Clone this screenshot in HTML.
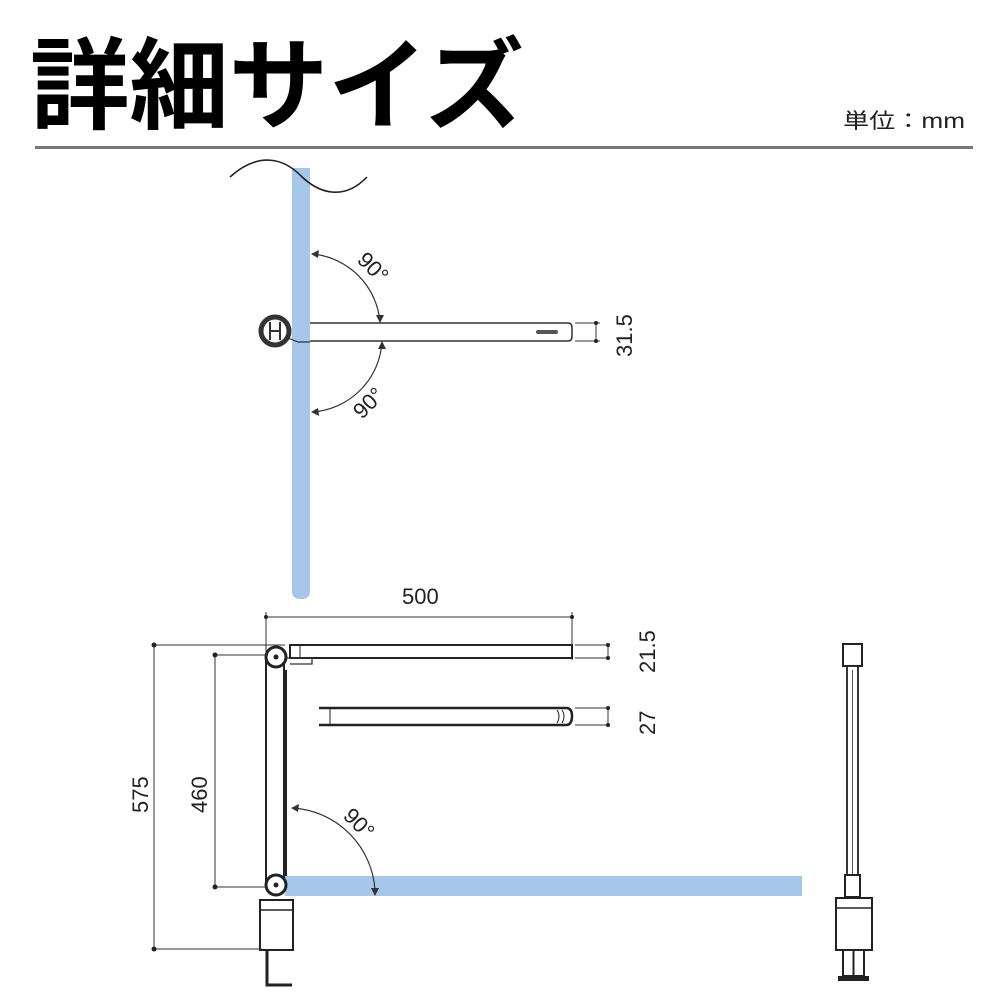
<!DOCTYPE html>
<html><head><meta charset="utf-8"><style>
html,body{margin:0;padding:0;background:#fff;}
svg{display:block;}
text{font-family:"Liberation Sans","Noto Sans CJK JP",sans-serif;}
</style></head><body>
<svg width="1000" height="1000" viewBox="0 0 1000 1000" xmlns="http://www.w3.org/2000/svg">
<text x="30" y="121" font-size="100" font-weight="700" style="font-family:'Noto Sans CJK JP',sans-serif" textLength="494" lengthAdjust="spacingAndGlyphs">詳細サイズ</text>
<text x="843" y="128" font-size="21" fill="#222" textLength="122" lengthAdjust="spacingAndGlyphs" style="font-family:'Liberation Sans','Noto Sans CJK JP',sans-serif">単位：mm</text>
<rect x="35" y="146" width="938" height="3" fill="#777"/>

<!-- top view -->
<rect x="292" y="168" width="18" height="425" fill="#a7c7ea"/>
<rect x="292" y="585" width="18" height="14" rx="7" fill="#a7c7ea"/>
<path d="M230 177 C260 150 285 160 300 175 C320 195 345 200 367 177" fill="none" stroke="#222" stroke-width="1.6"/>
<path d="M310 323 H568 Q572 323 572 328 V336 Q572 341 568 341 H310" fill="#fff" stroke="#333" stroke-width="1.5"/>
<rect x="536" y="330" width="22" height="4" rx="2" fill="#555"/>
<circle cx="275" cy="331" r="14" fill="#fff" stroke="#333" stroke-width="5"/>
<path d="M270 322 V340 M280 322 V340 M270 331 H280" fill="none" stroke="#333" stroke-width="2"/>
<path d="M288 338 L298 342 H310" fill="none" stroke="#333" stroke-width="1.2"/>
<path d="M313 254 A75 75 0 0 1 380 322" fill="none" stroke="#333" stroke-width="1.2"/>
<path d="M313 412 A75 75 0 0 0 382 342" fill="none" stroke="#333" stroke-width="1.2"/>
<path d="M311 254 l8 -4 l-1 8 z M380 323 l-4 -8 l8 0 z M382 341 l-4 8 l8 0 z M311 412 l8 4 l-1 -8 z" fill="#333"/>
<text x="0" y="0" font-size="22" fill="#222" transform="translate(356,261) rotate(45)">90°</text>
<text x="0" y="0" font-size="22" fill="#222" transform="translate(362,420) rotate(-45)">90°</text>
<line x1="575" y1="323" x2="600" y2="323" stroke="#333"/>
<line x1="575" y1="341" x2="600" y2="341" stroke="#333"/>
<line x1="596" y1="323" x2="596" y2="341" stroke="#333"/>
<circle cx="596" cy="323" r="2" fill="#222"/><circle cx="596" cy="341" r="2" fill="#222"/>
<text font-size="22" fill="#222" transform="translate(632,357) rotate(-90)">31.5</text>

<!-- side view -->
<line x1="266" y1="617" x2="572" y2="617" stroke="#333"/>
<line x1="266" y1="612" x2="266" y2="660" stroke="#333"/>
<line x1="572" y1="612" x2="572" y2="660" stroke="#333"/>
<circle cx="266" cy="617" r="2" fill="#222"/><circle cx="572" cy="617" r="2" fill="#222"/>
<text x="402" y="604" font-size="22" fill="#222">500</text>
<rect x="290" y="645" width="282" height="13" fill="#fff" stroke="#222" stroke-width="2"/>
<line x1="300" y1="645" x2="300" y2="658" stroke="#222"/>
<path d="M285 658 H312 V664 H290" fill="none" stroke="#333" stroke-width="1.3"/>
<rect x="266" y="660" width="18" height="222" fill="#fff" stroke="#222" stroke-width="2"/>
<line x1="286" y1="670" x2="286" y2="880" stroke="#222" stroke-width="2"/>
<circle cx="276" cy="657" r="10" fill="#fff" stroke="#222" stroke-width="3"/>
<circle cx="276" cy="657" r="2.5" fill="#222"/>
<rect x="285" y="876" width="517" height="20" fill="#a7c7ea"/>
<circle cx="276" cy="885" r="10" fill="#fff" stroke="#222" stroke-width="3"/>
<circle cx="276" cy="885" r="2.5" fill="#222"/>
<rect x="260" y="900" width="33" height="50" fill="#fff" stroke="#222" stroke-width="2"/>
<line x1="260" y1="910" x2="293" y2="910" stroke="#222" stroke-width="1.5"/>
<path d="M267 950 V985 H292" fill="none" stroke="#222" stroke-width="3"/>
<line x1="154" y1="645" x2="154" y2="949" stroke="#333"/>
<line x1="154" y1="645" x2="285" y2="645" stroke="#333"/>
<line x1="154" y1="949" x2="262" y2="949" stroke="#333"/>
<circle cx="154" cy="645" r="2.5" fill="#222"/><circle cx="154" cy="949" r="2.5" fill="#222"/>
<text font-size="22" fill="#222" transform="translate(148,813) rotate(-90)">575</text>
<line x1="215" y1="655" x2="215" y2="887" stroke="#333"/>
<line x1="215" y1="655" x2="268" y2="655" stroke="#333"/>
<line x1="215" y1="887" x2="268" y2="887" stroke="#333"/>
<circle cx="215" cy="655" r="2.5" fill="#222"/><circle cx="215" cy="887" r="2.5" fill="#222"/>
<text font-size="22" fill="#222" transform="translate(207,813) rotate(-90)">460</text>
<line x1="575" y1="645" x2="610" y2="645" stroke="#333"/>
<line x1="575" y1="658" x2="610" y2="658" stroke="#333"/>
<line x1="608" y1="645" x2="608" y2="658" stroke="#333"/>
<circle cx="608" cy="645" r="2" fill="#222"/><circle cx="608" cy="658" r="2" fill="#222"/>
<text font-size="22" fill="#222" transform="translate(655,673) rotate(-90)">21.5</text>
<path d="M319 708 H566 Q572 708 572 716 Q572 725 566 725 H319" fill="#fff" stroke="#222" stroke-width="2.5"/>
<line x1="330" y1="708" x2="330" y2="725" stroke="#222"/>
<path d="M557 710 q4 6 0 13 M562 710 q4 6 0 13" fill="none" stroke="#222"/>
<line x1="575" y1="708" x2="610" y2="708" stroke="#333"/>
<line x1="575" y1="725" x2="610" y2="725" stroke="#333"/>
<line x1="608" y1="708" x2="608" y2="725" stroke="#333"/>
<circle cx="608" cy="708" r="2" fill="#222"/><circle cx="608" cy="725" r="2" fill="#222"/>
<text font-size="22" fill="#222" transform="translate(655,735) rotate(-90)">27</text>
<path d="M293 808 A88 88 0 0 1 375 890" fill="none" stroke="#333" stroke-width="1.2"/>
<path d="M291 808 l8 -4 l-1 8 z M375 896 l-4 -8 l8 0 z" fill="#333"/>
<text font-size="22" fill="#222" transform="translate(342,817) rotate(45)">90°</text>

<!-- right view -->
<rect x="843" y="644" width="19" height="22" fill="#fff" stroke="#222" stroke-width="2"/>
<rect x="847" y="666" width="11" height="214" fill="#fff" stroke="#222" stroke-width="1.8"/>
<line x1="852.5" y1="670" x2="852.5" y2="878" stroke="#555"/>
<rect x="845" y="875" width="15" height="22" fill="#fff" stroke="#222" stroke-width="2"/>
<rect x="836" y="898" width="36" height="52" fill="#fff" stroke="#222" stroke-width="2"/>
<line x1="836" y1="908" x2="872" y2="908" stroke="#222" stroke-width="1.5"/>
<rect x="843" y="950" width="21" height="26" fill="#fff" stroke="#222" stroke-width="2"/>
<line x1="853.5" y1="950" x2="853.5" y2="976" stroke="#222" stroke-width="2"/>
<rect x="838" y="976" width="31" height="5" fill="#222"/>
</svg>
</body></html>
